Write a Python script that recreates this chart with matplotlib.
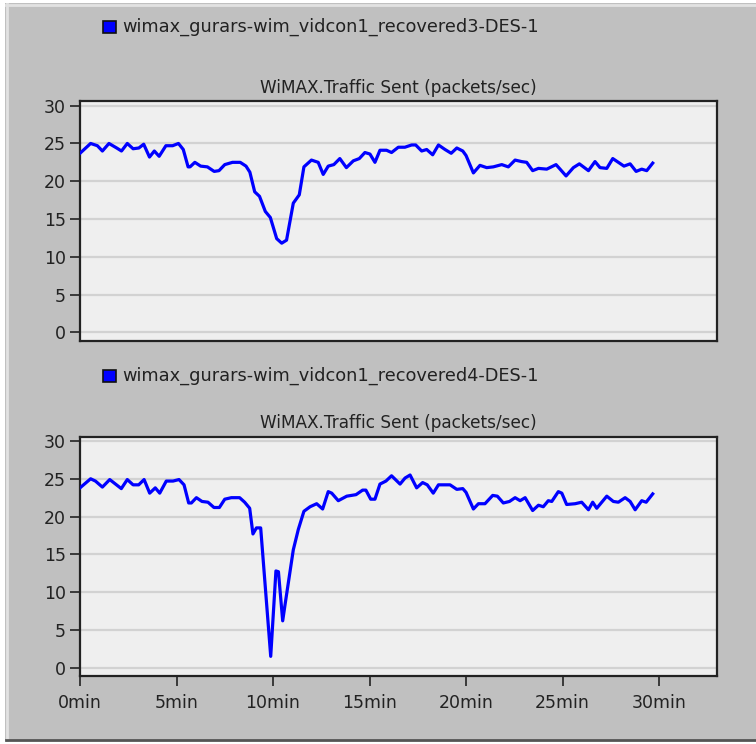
import numpy as np
import matplotlib
matplotlib.use("Agg")
import matplotlib.pyplot as plt
from matplotlib.patches import Rectangle
from matplotlib.lines import Line2D

matplotlib.rcParams.update({
    'font.family': 'DejaVu Sans',
    'font.size': 12,
})

# series names and chart title
name_top = "wimax_gurars-wim_vidcon1_recovered3-DES-1"
name_bot = "wimax_gurars-wim_vidcon1_recovered4-DES-1"
title = "WiMAX.Traffic Sent (packets/sec)"

# x tick labels (minutes)
xticks = [0, 5, 10, 15, 20, 25, 30]
xlabels = ["0min", "5min", "10min", "15min", "20min", "25min", "30min"]
yticks = [0, 5, 10, 15, 20, 25, 30]

# recovered3 - time (min), packets/sec
t_top = [0.0, 0.55, 0.9, 1.16, 1.5, 1.9, 2.15, 2.45, 2.75, 3.05, 3.3, 3.6, 3.85,
         4.1, 4.45, 4.8, 5.1, 5.35, 5.6, 5.7, 5.95, 6.25, 6.6, 6.95, 7.2, 7.5,
         7.9, 8.3, 8.6, 8.8, 9.05, 9.3, 9.6, 9.86, 10.19, 10.45, 10.7, 11.05,
         11.36, 11.6, 11.99, 12.34, 12.6, 12.86, 13.15, 13.46, 13.8, 14.16,
         14.47, 14.76, 15.02, 15.28, 15.54, 15.88, 16.14, 16.49, 16.83, 17.18,
         17.39, 17.7, 17.96, 18.27, 18.57, 18.91, 19.23, 19.52, 19.83, 20.0,
         20.38, 20.72, 21.07, 21.41, 21.85, 22.19, 22.54, 22.88, 23.14, 23.45,
         23.75, 24.18, 24.66, 24.87, 25.18, 25.56, 25.87, 26.34, 26.68, 26.94,
         27.29, 27.6, 27.89, 28.18, 28.5, 28.81, 29.1, 29.36, 29.67]
v_top = [23.7, 25.0, 24.7, 24.0, 25.0, 24.4, 24.0, 25.0, 24.3, 24.4, 24.9, 23.2, 24.0,
         23.3, 24.7, 24.7, 25.0, 24.2, 21.9, 21.9, 22.5, 22.0, 21.9, 21.3, 21.4, 22.2,
         22.5, 22.5, 22.0, 21.2, 18.6, 18.0, 16.0, 15.2, 12.4, 11.8, 12.2, 17.1,
         18.2, 21.9, 22.8, 22.5, 20.9, 22.0, 22.2, 23.0, 21.8, 22.7,
         23.0, 23.8, 23.6, 22.5, 24.1, 24.1, 23.8, 24.5, 24.5, 24.8,
         24.8, 24.0, 24.2, 23.5, 24.8, 24.2, 23.7, 24.4, 24.0, 23.4,
         21.1, 22.1, 21.8, 21.9, 22.2, 21.9, 22.8, 22.6, 22.5, 21.4,
         21.7, 21.6, 22.2, 21.6, 20.7, 21.8, 22.3, 21.4, 22.6, 21.8,
         21.7, 23.0, 22.5, 22.0, 22.3, 21.3, 21.6, 21.4, 22.4]

# recovered4
t_bot = [0.0, 0.55, 0.8, 1.16, 1.54, 2.14, 2.45, 2.75, 3.04, 3.32, 3.61, 3.9,
         4.13, 4.47, 4.82, 5.13, 5.39, 5.63, 5.77, 6.03, 6.32, 6.63, 6.94, 7.22,
         7.5, 7.84, 8.27, 8.53, 8.79, 8.96, 9.14, 9.36, 9.88, 10.15, 10.28, 10.5,
         10.62, 11.05, 11.31, 11.6, 11.92, 12.26, 12.57, 12.86, 13.04, 13.38,
         13.82, 14.3, 14.64, 14.81, 15.06, 15.28, 15.54, 15.85, 16.14, 16.58,
         16.84, 17.1, 17.44, 17.75, 17.99, 18.3, 18.57, 18.86, 19.17, 19.52,
         19.83, 20.0, 20.38, 20.64, 20.98, 21.38, 21.62, 21.93, 22.25, 22.54,
         22.8, 23.06, 23.45, 23.75, 24.0, 24.26, 24.44, 24.78, 24.96, 25.21,
         25.65, 25.99, 26.34, 26.56, 26.77, 27.29, 27.63, 27.89, 28.24, 28.5,
         28.76, 29.1, 29.33, 29.67]
v_bot = [23.8, 25.0, 24.7, 23.9, 24.9, 23.7, 24.9, 24.2, 24.2, 24.9, 23.1, 23.8,
         23.1, 24.7, 24.7, 24.9, 24.2, 21.8, 21.8, 22.5, 22.0, 21.9, 21.2, 21.2,
         22.3, 22.5, 22.5, 21.9, 21.1, 17.7, 18.5, 18.5, 1.5, 12.8, 12.7, 6.2,
         8.3, 15.6, 18.3, 20.7, 21.3, 21.7, 21.0, 23.3, 23.1, 22.1,
         22.7, 22.9, 23.5, 23.5, 22.3, 22.3, 24.3, 24.7, 25.4, 24.3,
         25.1, 25.5, 23.8, 24.5, 24.2, 23.1, 24.2, 24.2, 24.2, 23.6,
         23.7, 23.2, 21.0, 21.7, 21.7, 22.8, 22.7, 21.8, 22.0, 22.5,
         22.1, 22.5, 20.8, 21.5, 21.3, 22.1, 22.0, 23.3, 23.1, 21.6,
         21.7, 21.9, 20.9, 21.9, 21.1, 22.7, 22.0, 21.9, 22.5, 22.0,
         20.9, 22.1, 21.9, 23.0]

W, H = 756, 744
fig = plt.figure(figsize=(W / 100, H / 100), dpi=100)
fig.patch.set_facecolor("white")

# window panel with a bevelled edge (kept behind the axes)
fig.patches.append(Rectangle((5 / W, 4 / H), 1 - 5 / W, 1 - 7 / H,
                             transform=fig.transFigure, facecolor="#c0c0c0",
                             edgecolor="none", zorder=-10))
fig.lines.append(Line2D([6.5 / W, 6.5 / W], [4 / H, 1 - 4 / H], transform=fig.transFigure,
                        color="#e2e2e2", lw=2, zorder=-5))
fig.lines.append(Line2D([6 / W, 1], [1 - 4.5 / H, 1 - 4.5 / H], transform=fig.transFigure,
                        color="#e2e2e2", lw=2, zorder=-5))
fig.lines.append(Line2D([6 / W, 1], [4.5 / H, 4.5 / H], transform=fig.transFigure,
                        color="#555555", lw=2, zorder=-5))


def panel(top, bottom, t, v, name, legend_y, show_x, ylim):
    ax = fig.add_axes([80 / W, 1 - bottom / H, 637 / W, (bottom - top) / H])
    ax.set_facecolor("#efefef")
    ax.plot(t, v, color="#0000ff", lw=2.3, solid_joinstyle="round", zorder=3)
    ax.set_xlim(0, 33)
    ax.set_ylim(*ylim)
    ax.set_yticks(yticks)
    ax.yaxis.grid(True, color="#d2d2d2", lw=1.6)
    ax.set_axisbelow(True)
    ax.set_xticks(xticks)
    if show_x:
        ax.set_xticklabels(xlabels)
        ax.tick_params(axis="x", length=7, width=1.2, color="#222222", pad=6,
                       labelsize=12.5, labelcolor="#222222")
    else:
        ax.tick_params(axis="x", length=0, labelbottom=False)
    ax.tick_params(axis="y", length=7, width=1.2, color="#222222", pad=3,
                   labelsize=12.5, labelcolor="#222222")
    for s in ax.spines.values():
        s.set_color("#222222")
        s.set_linewidth(1.6)
    ax.set_title(title, fontsize=12.2, pad=6, color="#222222")

    # legend swatch + label
    fig.patches.append(Rectangle((103 / W, 1 - (legend_y + 6) / H), 13 / W, 12 / H,
                                 transform=fig.transFigure, facecolor="#0000ff",
                                 edgecolor="#111111", lw=1.2))
    fig.text(122 / W, 1 - legend_y / H, name, fontsize=12.8, va="center", ha="left",
             color="#222222")
    return ax


panel(101, 341, t_top, v_top, name_top, 27, False, (-1.15, 30.62))
panel(436.7, 676, t_bot, v_bot, name_bot, 376, True, (-1.1, 30.57))

fig.savefig("out.png", dpi=100, facecolor=fig.get_facecolor())
